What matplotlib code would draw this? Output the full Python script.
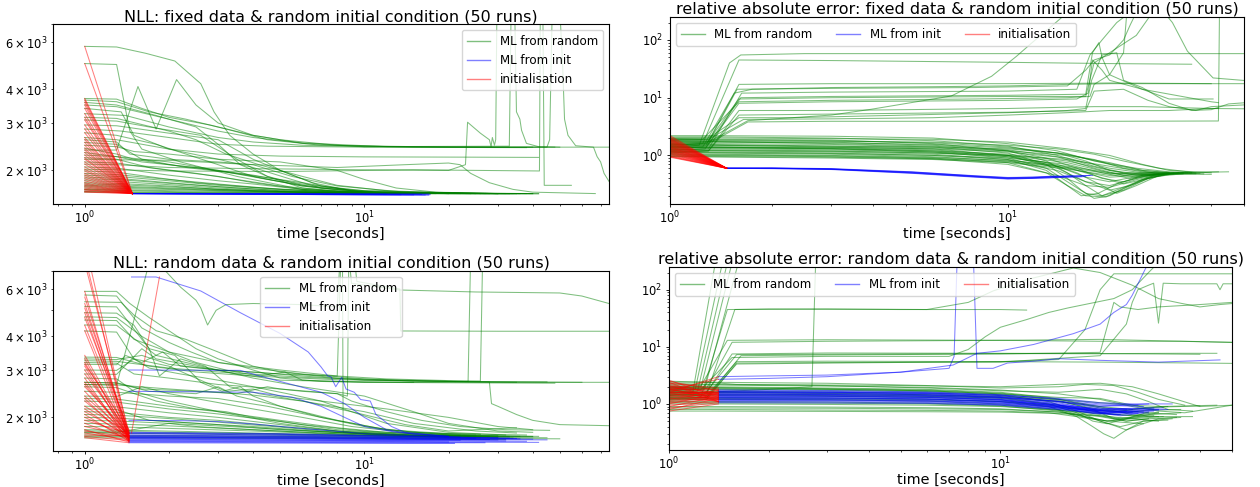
import matplotlib
matplotlib.use('Agg')
import matplotlib.pyplot as plt

# ---------------- top left: NLL, fixed data ----------------
tl_red_start = [5780, 4990, 3700, 3650, 3580, 3500, 3400, 3250, 3150, 3080, 2950, 2850,
                2760, 2650, 2600, 2540, 2480, 2420, 2380, 2330, 2280, 2230, 2200, 2150,
                2110, 2060, 2020, 1990, 1950, 1920, 1890, 1860, 1830, 1800, 1780, 1760,
                1740, 1720, 1700, 1690, 1670, 1660]
tl_red_end = (1.48, 1640)

tl_blue = [
    [(1.48, 1640), (5, 1636), (12, 1632)],
    [(1.48, 1640), (5, 1630), (13.5, 1625)],
    [(1.48, 1640), (6, 1628), (15, 1622)],
    [(1.48, 1640), (6, 1634), (16, 1630)],
    [(1.48, 1640), (7, 1626), (16.5, 1620)],
    [(1.48, 1640), (7, 1638), (17, 1634)],
    [(1.48, 1640), (8, 1624), (17, 1618)],
    [(1.48, 1640), (8, 1632), (17.2, 1626)],
]

tl_green = [
    [(1, 5780), (1.3, 5750), (1.65, 5450), (2.1, 5100), (2.6, 4200), (2.9, 3300), (3.3, 2700), (4, 2300), (5, 2000), (7, 1750), (10, 1660), (20, 1640), (42, 1638)],
    [(1, 4990), (1.3, 4950), (1.45, 2800), (1.6, 2400), (2.2, 2150), (3.5, 1900), (6, 1700), (12, 1645), (38, 1640)],
    [(1, 2380), (1.3, 2380), (1.55, 4100), (1.8, 2850), (2.13, 4350), (2.5, 3500), (3, 3000), (4, 2700), (5, 2600), (8, 2480), (15, 2440), (48, 2440)],
    [(1, 3700), (1.3, 3680), (1.6, 3400), (2, 3150), (2.8, 2950), (4, 2700), (6, 2520), (10, 2450), (30, 2435), (45, 2440), (46, 2600), (47, 8000), (50, 8000), (51.2, 4900), (52, 3100), (53.5, 2700), (57, 2470), (66, 2440), (80, 2440)],
    [(1, 3650), (1.3, 3600), (1.7, 3300), (2.3, 3100), (3.2, 2850), (4.5, 2600), (7, 2480), (20, 2440), (66, 2440), (68, 2250), (70, 2150), (72, 1950), (75, 1820), (78, 1800)],
    [(1, 3580), (1.3, 3500), (1.8, 3200), (2.5, 2900), (3, 2500), (3.6, 2100), (4.5, 1900), (6, 1760), (10, 1680), (25, 1645), (40, 1640)],
    [(1, 3500), (1.3, 3450), (2, 3100), (3, 2800), (4, 2650), (6, 2530), (12, 2450), (40, 2440)],
    [(1, 3400), (1.35, 3300), (1.5, 2700), (2, 2400), (3, 2300), (5, 2260), (10, 2245), (23, 2240), (42, 2235)],
    [(1, 3250), (1.4, 3200), (2, 2900), (3, 2650), (4, 2550), (6, 2480), (10, 2450), (33, 2460), (33.5, 8000), (34.5, 8000), (35, 3300), (36, 3100), (36.5, 2820), (38, 2520), (42, 2450), (50, 2440)],
    [(1, 3150), (1.3, 3120), (2, 2800), (2.5, 2600), (3.2, 2300), (4.2, 2100), (6, 1900), (8, 1760), (12, 1680), (20, 1650), (30, 1640)],
    [(1, 3080), (1.3, 3050), (1.7, 2900), (2.6, 2700), (3.5, 2200), (4.5, 1900), (6, 1720), (10, 1650), (25, 1640)],
    [(1, 2950), (1.3, 2930), (2, 2750), (3, 2600), (4, 2200), (5, 2000), (6.5, 1800), (9, 1680), (15, 1640), (35, 1638)],
    [(1, 2850), (1.35, 2800), (2, 2650), (3, 2500), (4.5, 2460), (10, 2440), (38, 2430)],
    [(1, 2760), (1.3, 2700), (1.8, 2500), (2.3, 2300), (3, 2100), (4, 1900), (6, 1750), (10, 1660), (30, 1640)],
    [(1, 2650), (1.3, 2600), (2, 2400), (3, 2200), (4, 2050), (5.5, 1850), (7, 1720), (11, 1650), (28, 1640)],
    [(1, 2600), (1.3, 2550), (1.45, 2300), (2, 2200), (3, 2150), (4, 2100), (5.5, 1900), (8, 1750), (14, 1660), (20, 1640), (33, 1638)],
    [(1, 2540), (1.3, 2500), (1.6, 2200), (2.3, 2050), (3.5, 1950), (6, 1800), (9, 1680), (15, 1645), (40, 1640)],
    [(1, 2480), (1.3, 2450), (1.5, 2350), (2, 2300), (3, 2200), (5, 2150), (8, 2000), (10, 1850), (13, 1720), (18, 1660), (30, 1640)],
    [(1, 2420), (1.3, 2300), (1.5, 2200), (2, 2100), (3, 2000), (4, 1920), (6, 1780), (10, 1680), (22, 1642)],
    [(1, 2330), (1.3, 2250), (1.6, 2150), (2.5, 2050), (4, 1900), (6, 1750), (9, 1670), (16, 1645), (36, 1640)],
    [(1, 2280), (1.3, 2250), (2, 2150), (3, 2000), (4.5, 1850), (7, 1720), (12, 1650), (26, 1640)],
    [(1, 2230), (1.3, 2200), (1.7, 2050), (2.5, 1950), (3.5, 1850), (5, 1750), (8, 1670), (20, 1642)],
    [(1, 2200), (1.3, 2190), (2, 2180), (4, 2100), (8, 2050), (14, 2100), (20, 2130), (22, 2100), (24, 1950), (28, 1800), (34, 1700), (40, 1660), (67, 1640)],
    [(1, 2150), (1.3, 2130), (2, 2000), (3, 1900), (4, 1800), (6, 1700), (10, 1650), (30, 1640)],
    [(1, 2110), (1.3, 2100), (2, 2050), (4, 2030), (10, 2010), (20, 2000), (23, 2100), (23.4, 3020), (26, 2750), (28, 2600), (28.4, 2450), (28.7, 2650), (29.2, 2480), (29.5, 2600), (29.8, 8000)],
    [(1, 2060), (1.3, 2040), (2, 1920), (3, 1830), (4, 1780), (6, 1700), (10, 1650), (24, 1640)],
    [(1, 2020), (1.3, 2010), (2, 1990), (5, 1980), (15, 2010), (25, 2000), (42.3, 1990), (42.6, 8000), (43.5, 8000), (44, 1760), (55, 1760)],
    [(1, 1990), (1.3, 1970), (1.8, 1880), (2.5, 1800), (4, 1730), (7, 1670), (12, 1645), (32, 1640)],
    [(1, 1950), (1.3, 1930), (2, 1850), (3, 1780), (5, 1700), (9, 1655), (20, 1640)],
    [(1, 1920), (1.3, 1900), (2, 1830), (3, 1760), (5, 1700), (8, 1660), (27, 1640)],
    [(1, 1890), (1.3, 1870), (2, 1800), (3, 1740), (5, 1680), (10, 1645), (34, 1640)],
    [(1, 1860), (1.3, 1850), (2, 1790), (3.5, 1720), (6, 1670), (12, 1645), (25, 1640)],
    [(1, 1830), (1.3, 1820), (2, 1770), (3, 1720), (5, 1670), (9, 1650), (30, 1640)],
    [(1, 1800), (1.3, 1790), (2, 1750), (3, 1700), (6, 1660), (18, 1640)],
    [(1, 1780), (1.3, 1770), (2.5, 1720), (4, 1680), (8, 1650), (40, 1640)],
    [(1, 1760), (1.3, 1750), (2, 1720), (4, 1680), (7, 1650), (22, 1640)],
    [(1, 1720), (1.3, 1715), (2.5, 1690), (5, 1660), (10, 1645), (36, 1640)],
    [(1, 1700), (1.3, 1695), (3, 1670), (6, 1650), (28, 1640)],
    [(1, 1670), (1.3, 1665), (3, 1650), (8, 1640), (42, 1638)],
    [(1, 1740), (1.3, 1735), (2, 1710), (4, 1670), (9, 1648), (20, 1640)],
    [(1, 1690), (1.3, 1685), (2.2, 1665), (5, 1648), (15, 1640)],
    [(1, 1660), (1.3, 1658), (2, 1650), (6, 1642), (24, 1640)],
]

# ---------------- top right: relative error, fixed data ----------------
tr_red_start = [2.2, 2.1, 2.0, 1.95, 1.9, 1.85, 1.8, 1.75, 1.7, 1.65, 1.6, 1.55, 1.5, 1.45,
                1.42, 1.38, 1.35, 1.3, 1.27, 1.24, 1.2, 1.17, 1.14, 1.1, 1.07, 1.04, 1.0,
                0.97, 0.95, 0.93]
tr_red_end = (1.47, 0.6)

tr_blue = [
    [(1.47, 0.6), (2, 0.61), (3, 0.59), (5.2, 0.52), (8, 0.44), (10, 0.41), (11.8, 0.42), (15, 0.44), (17.8, 0.45)],
    [(1.47, 0.6), (2, 0.59), (3, 0.57), (5.2, 0.49), (8, 0.42), (10, 0.39), (11.8, 0.40), (15, 0.42), (17, 0.43)],
    [(1.47, 0.6), (2, 0.6), (3, 0.58), (5.2, 0.5), (8, 0.43), (10, 0.40), (11.8, 0.41), (15.5, 0.44)],
    [(1.47, 0.6), (2, 0.6), (3, 0.585), (5.2, 0.515), (8, 0.445), (10, 0.415), (11.8, 0.42), (14, 0.44)],
    [(1.47, 0.6), (2, 0.595), (3, 0.575), (5.2, 0.495), (8, 0.425), (10, 0.395), (11.8, 0.40), (16.5, 0.43)],
    [(1.47, 0.6), (2, 0.6), (3, 0.58), (5.2, 0.51), (8, 0.435), (10, 0.405), (11.8, 0.41), (17.5, 0.45)],
]

tr_green = [
    # runs that stay near the true values
    [(1, 2.2), (1.3, 2.2), (3, 2.15), (6, 2.0), (10, 1.6), (14, 1.2), (18, 0.8), (24, 0.6), (30, 0.52), (35, 0.5)],
    [(1, 2.1), (1.3, 2.1), (3, 2.0), (6, 1.8), (10, 1.45), (14, 1.0), (18, 0.65), (22, 0.5), (28, 0.48)],
    [(1, 2.0), (1.3, 2.0), (3, 1.95), (6, 1.9), (10, 1.7), (15, 1.3), (20, 1.0), (25, 0.7), (30, 0.55), (40, 0.5)],
    [(1, 1.95), (1.3, 1.9), (3, 1.85), (6, 1.6), (10, 1.2), (13, 0.8), (15, 0.5), (17, 0.3), (19, 0.2), (22, 0.25), (26, 0.4), (30, 0.48)],
    [(1, 1.85), (1.3, 1.8), (3, 1.75), (6, 1.7), (10, 1.5), (14, 1.3), (18, 1.05), (22, 0.8), (28, 0.6), (36, 0.5)],
    [(1, 1.8), (1.3, 1.75), (3, 1.6), (6, 1.45), (10, 1.2), (13, 0.9), (16, 0.6), (19, 0.4), (22, 0.35), (26, 0.45), (32, 0.5)],
    [(1, 1.7), (1.3, 1.7), (3, 1.65), (6, 1.55), (10, 1.35), (14, 1.1), (17, 0.8), (20, 0.55), (24, 0.45), (29, 0.47)],
    [(1, 1.65), (1.3, 1.6), (3, 1.55), (6, 1.4), (10, 1.1), (13, 0.7), (15, 0.4), (16.5, 0.25), (18, 0.18), (20, 0.2), (23, 0.3), (27, 0.45), (33, 0.5)],
    [(1, 1.6), (1.3, 1.55), (3, 1.45), (6, 1.35), (10, 1.2), (15, 1.0), (20, 0.75), (25, 0.55), (30, 0.5), (42, 0.52)],
    [(1, 1.55), (1.3, 1.5), (3, 1.4), (6, 1.3), (10, 1.0), (14, 0.6), (17, 0.35), (20, 0.3), (24, 0.4), (28, 0.47)],
    [(1, 1.5), (1.3, 1.5), (3, 1.45), (6, 1.4), (10, 1.3), (14, 1.1), (18, 0.85), (22, 0.6), (27, 0.5), (38, 0.48)],
    [(1, 1.45), (1.3, 1.4), (3, 1.35), (6, 1.25), (10, 1.0), (13, 0.75), (16, 0.5), (19, 0.3), (21, 0.22), (24, 0.3), (28, 0.45), (31, 0.5)],
    [(1, 1.4), (1.3, 1.4), (3, 1.3), (6, 1.2), (10, 1.05), (15, 0.8), (20, 0.55), (25, 0.47), (35, 0.5)],
    [(1, 1.35), (1.3, 1.35), (3, 1.3), (6, 1.15), (10, 0.9), (13, 0.6), (15, 0.35), (17, 0.22), (19, 0.2), (22, 0.28), (26, 0.42), (30, 0.48)],
    [(1, 1.3), (1.3, 1.3), (3, 1.25), (6, 1.15), (10, 1.0), (15, 0.75), (20, 0.5), (24, 0.42), (29, 0.48)],
    [(1, 1.27), (1.3, 1.25), (3, 1.2), (6, 1.1), (10, 0.95), (14, 0.7), (18, 0.45), (22, 0.32), (26, 0.4), (32, 0.5)],
    [(1, 1.24), (1.3, 1.22), (3, 1.18), (6, 1.1), (10, 1.0), (15, 0.85), (20, 0.65), (25, 0.52), (30, 0.48), (40, 0.47)],
    [(1, 1.2), (1.3, 1.2), (3, 1.15), (6, 1.05), (10, 0.85), (13, 0.55), (15, 0.3), (16.5, 0.2), (18.5, 0.22), (21, 0.32), (25, 0.45), (28, 0.48)],
    [(1, 1.17), (1.3, 1.15), (3, 1.1), (6, 1.0), (10, 0.85), (15, 0.6), (20, 0.42), (25, 0.45), (34, 0.5)],
    [(1, 1.14), (1.3, 1.12), (3, 1.08), (6, 1.0), (10, 0.9), (15, 0.7), (19, 0.5), (23, 0.4), (27, 0.46)],
    [(1, 1.1), (1.3, 1.1), (3, 1.05), (6, 0.95), (10, 0.8), (14, 0.55), (17, 0.35), (20, 0.25), (23, 0.3), (27, 0.43), (33, 0.48)],
    [(1, 1.07), (1.3, 1.05), (3, 1.0), (6, 0.92), (10, 0.82), (15, 0.65), (20, 0.5), (26, 0.46), (36, 0.48)],
    [(1, 1.04), (1.3, 1.02), (3, 0.98), (6, 0.9), (10, 0.75), (13, 0.5), (15, 0.3), (17, 0.2), (19.5, 0.19), (22, 0.27), (25, 0.38), (29, 0.46)],
    [(1, 1.0), (1.3, 1.0), (3, 0.95), (6, 0.88), (10, 0.78), (15, 0.62), (20, 0.48), (25, 0.5), (30, 0.5)],
    [(1, 0.97), (1.3, 0.96), (3, 0.93), (6, 0.87), (10, 0.7), (14, 0.45), (17, 0.3), (20, 0.28), (24, 0.38), (28, 0.46)],
    [(1, 0.95), (1.3, 0.94), (3, 0.9), (6, 0.85), (10, 0.75), (15, 0.58), (20, 0.45), (26, 0.47), (37, 0.49)],
    [(1, 1.9), (1.3, 1.85), (3, 1.8), (6, 1.65), (10, 1.4), (15, 1.05), (20, 0.7), (25, 0.55), (31, 0.5), (45, 0.52)],
    [(1, 1.75), (1.3, 1.72), (3, 1.7), (6, 1.5), (10, 1.25), (14, 0.95), (18, 0.6), (22, 0.45), (26, 0.5), (33, 0.5)],
    [(1, 1.42), (1.3, 1.4), (3, 1.38), (6, 1.3), (10, 1.15), (15, 0.9), (20, 0.6), (25, 0.5), (31, 0.48)],
    [(1, 1.38), (1.3, 1.36), (3, 1.32), (6, 1.2), (10, 0.95), (14, 0.65), (17, 0.42), (20, 0.35), (25, 0.45), (30, 0.5)],
    # runs that run away from the true values
    [(1, 1.4), (1.22, 1.5), (1.5, 40), (1.62, 55), (2.5, 58), (10, 58), (30, 58), (55, 58)],
    [(1, 1.5), (1.25, 1.6), (1.6, 45), (3, 44), (10, 41), (20, 39), (35, 38)],
    [(1, 1.3), (1.25, 1.4), (1.55, 12), (1.75, 14), (3, 15), (6, 15.5), (10, 16), (15, 17), (20, 17.5), (40, 17.5)],
    [(1, 1.45), (1.28, 1.5), (1.6, 17), (3, 17.5), (10, 17.5), (17, 17.8), (20, 18), (40, 17.5), (55, 17.5)],
    [(1, 1.2), (1.27, 1.3), (1.6, 8), (3, 8.5), (10, 9), (16, 9.5), (17.3, 12), (17.8, 45), (19, 30), (20, 20), (25, 14), (30, 9.5), (40.5, 9.5)],
    [(1, 1.9), (1.25, 1.9), (1.6, 8.5), (3, 9), (8, 9.5), (15, 10), (17.5, 10.5), (18, 17), (20, 25), (25, 14), (40, 8.5), (42, 8.2)],
    [(1, 1.1), (1.3, 1.2), (1.6, 6), (3, 6), (10, 6.5), (18, 7), (25, 7), (40, 6.5), (55, 6.4)],
    [(1, 2.0), (1.3, 2.0), (1.6, 4.5), (2.3, 4.5), (5, 5), (10, 5.5), (15, 6), (17, 6.5), (17.7, 20), (19, 55), (21, 60), (22, 20), (25, 15), (30, 8), (35, 6), (40, 6.2), (45, 7.8), (55, 8.5)],
    [(1, 1.8), (1.3, 1.9), (1.65, 4.2), (3, 4.3), (6, 4.5), (10, 5), (15, 5.5), (20, 6), (30, 6), (40, 6.5), (42, 6.5)],
    [(1, 1.5), (1.3, 1.6), (1.7, 3.8), (3, 3.9), (10, 3.9), (20, 3.9), (42, 3.95), (42.3, 300)],
    [(1, 1.6), (1.3, 1.7), (1.7, 4), (3, 5), (3.94, 6.3), (6.8, 10.7), (8.95, 23.5), (10.6, 52), (11.8, 90), (13.5, 175), (14.6, 260)],
    [(1, 1.7), (1.3, 1.7), (1.58, 14), (3, 14.5), (8, 15), (15, 16), (17, 30), (18, 45), (20, 55), (22, 100), (23, 180), (24, 300)],
    [(1, 1.35), (1.28, 1.4), (1.62, 10), (3, 10.5), (10, 11), (17, 11.5), (17.8, 60), (18.6, 90), (19, 50), (20, 25), (22, 60), (22.5, 300)],
    [(1, 1.55), (1.28, 1.6), (1.6, 9.5), (3, 10), (10, 10.5), (17, 10.5), (18, 40), (20, 60), (24, 120), (26.8, 300)],
    [(1, 1.25), (1.3, 1.3), (1.63, 12), (3, 12.5), (10, 13), (16, 14), (17.5, 55), (19, 100), (21, 200), (23, 300), (29, 300), (30.7, 200), (34, 64), (40.5, 22), (55, 19)],
    [(1, 1.15), (1.3, 1.2), (1.6, 5), (3, 5.2), (10, 5.6), (17, 6), (18, 13), (22, 14), (26, 9), (30, 7), (36, 6), (40, 7), (50, 7.5), (55, 7.5)],
]

# ---------------- bottom left: NLL, random data ----------------
bl_red_pairs = [(9000, 1700), (8000, 1650), (7500, 1760), (5880, 1640), (5600, 1720), (5300, 1690),
                (5100, 1750), (4900, 1660), (4700, 1780), (4400, 1700), (4200, 1630), (3400, 1740),
                (3300, 1670), (3200, 1710), (3150, 1800), (3100, 1650), (3000, 1690), (2900, 1760),
                (2800, 1620), (2700, 1700), (2650, 1680), (2600, 1740), (2500, 1660), (2400, 1720),
                (2350, 1640), (2300, 1690), (2200, 1750), (2150, 1670), (2100, 1710), (2050, 1630),
                (2000, 1680), (1950, 1740), (1900, 1660), (1850, 1700), (1800, 1620), (1780, 1690),
                (1750, 1650), (1720, 1710), (1700, 1640), (1680, 1610)]
bl_red_t = (1, 1.44)
bl_red_extra = [[(1.47, 1750), (1.85, 6650)]]

bl_blue = [
    [(1.47, 6650), (1.8, 6650), (2.6, 5900), (3.6, 4900), (5, 4100), (6.3, 3500), (7, 3080), (7.4, 2850), (7.6, 2830), (7.9, 2600), (8.3, 2820), (8.6, 2550), (9.2, 2480), (9.7, 2330), (10.5, 2300), (11, 2050), (12.5, 1850), (14, 1760), (20, 1700)],
    [(1.44, 3000), (3.6, 2990), (4.5, 2800), (5.5, 2650), (7, 2480), (8.5, 2250), (10, 2000), (12, 1800), (15, 1730), (22, 1690)],
    [(1.44, 2500), (2.5, 2490), (4, 2480), (5.5, 2380), (7, 2200), (8.5, 2000), (10, 1850), (13, 1760), (20, 1700)],
    [(1.44, 1950), (2.2, 1945), (3, 1930), (4, 1890), (6, 1820), (10, 1740), (20, 1690)],
    [(1.44, 1760), (5, 1740), (15, 1700), (30, 1680)],
    [(1.44, 1740), (5, 1720), (15, 1690), (35, 1670)],
    [(1.44, 1720), (5, 1705), (15, 1680), (25, 1670)],
    [(1.44, 1700), (5, 1690), (15, 1670), (40, 1660)],
    [(1.44, 1690), (5, 1680), (15, 1665), (28, 1655)],
    [(1.44, 1680), (5, 1670), (15, 1655), (45, 1650)],
    [(1.44, 1670), (5, 1660), (15, 1650), (22, 1645)],
    [(1.44, 1660), (5, 1650), (15, 1640), (32, 1635)],
    [(1.44, 1650), (5, 1645), (15, 1635), (38, 1630)],
    [(1.44, 1640), (5, 1635), (15, 1625), (20, 1620)],
    [(1.44, 1630), (5, 1625), (15, 1618), (42, 1615)],
    [(1.44, 1620), (5, 1615), (15, 1610), (27, 1610)],
    [(1.44, 1610), (5, 1605), (15, 1600), (21, 1600)],
    [(1.44, 1750), (5, 1730), (15, 1695), (33, 1675)],
    [(1.44, 1710), (5, 1700), (15, 1675), (36, 1665)],
    [(1.44, 1685), (5, 1678), (15, 1660), (30, 1650)],
]

bl_green = [
    [(1, 5880), (1.3, 5880), (1.45, 5300), (1.7, 4700), (2, 4200), (2.5, 3600), (3, 3300), (4, 3000), (5, 2800), (7, 2720), (10, 2700), (20, 2700), (40, 2700), (80, 2700)],
    [(1, 5700), (1.3, 5650), (1.6, 4300), (2, 3800), (2.4, 3500), (3, 3200), (4, 3050), (6, 2900), (10, 2780), (20, 2720), (35, 2700)],
    [(1, 5380), (1.35, 5350), (1.5, 4800), (1.8, 4200), (2.3, 3900), (3, 3500), (4, 3100), (5, 2950), (8, 2800), (15, 2730), (30, 2710), (60, 2700)],
    [(1, 5170), (1.3, 5150), (1.7, 3600), (1.85, 2850), (2.2, 3300), (2.7, 3100), (3.3, 2600), (4.2, 2450), (6, 2300), (10, 2100), (15, 1900), (25, 1780), (35, 1750)],
    [(1, 4900), (1.3, 4880), (1.5, 4400), (1.7, 3600), (2.1, 3400), (2.6, 2700), (3.1, 2500), (3.6, 2600), (4, 2400), (5, 2200), (7, 2000), (12, 1800), (20, 1720), (28, 1700)],
    [(1, 4730), (1.3, 4700), (1.6, 4000), (2, 3500), (2.5, 3200), (3.2, 3000), (4.2, 2850), (5.2, 2950), (6, 2750), (10, 2700), (20, 2690), (48, 2680)],
    [(1, 4410), (1.3, 4400), (1.8, 3400), (2.3, 3200), (3, 3000), (4, 2800), (6, 2600), (10, 2400), (15, 2100), (20, 1900), (30, 1780), (40, 1760)],
    [(1, 4190), (1.3, 4150), (1.5, 3300), (1.7, 3050), (2.2, 2900), (3, 2750), (4, 2600), (5.3, 2450), (7, 2300), (9, 2100), (12, 1900), (20, 1760), (32, 1720)],
    [(1, 2650), (1.3, 2640), (1.7, 7500), (1.85, 7400), (2.2, 6100), (2.5, 5450), (2.6, 5100), (2.75, 4410), (2.95, 5000), (3.2, 5250), (4, 5300), (6, 5250), (8, 5150), (8.2, 8000), (8.8, 8000), (9, 6300), (13.4, 5950), (25, 5850), (50, 5800), (60, 5650), (75, 5300)],
    [(1, 3300), (1.3, 3280), (1.6, 3400), (2, 3150), (3, 3000), (5, 2900), (8, 2850), (8.25, 8000), (8.35, 8000), (8.4, 1760), (12, 1720), (20, 1700)],
    [(1, 3200), (1.3, 3180), (1.5, 2900), (2, 2800), (3, 2650), (5, 2550), (8, 2450), (8.7, 2400), (8.8, 8000), (9.2, 8000), (9.4, 6400), (13.4, 6000), (13.5, 4190), (30, 4180), (80, 4180)],
    [(1, 3150), (1.3, 3140), (1.4, 3400), (1.6, 3200), (1.9, 3500), (2.2, 3100), (3, 3000), (4, 2950), (6, 2850), (10, 2750), (20, 2720), (45, 2710)],
    [(1, 3000), (1.3, 2990), (1.5, 3300), (2, 3100), (2.7, 2700), (3.2, 2500), (4, 2550), (5, 2400), (7, 2300), (12, 2150), (20, 2000), (30, 1850), (40, 1800)],
    [(1, 2900), (1.3, 2890), (1.6, 3600), (1.8, 3300), (2.5, 3100), (3.5, 2900), (5, 2750), (8, 2720), (15, 2700)],
    [(1, 2700), (1.3, 2690), (1.6, 2550), (2.5, 2500), (3.5, 2450), (4.5, 2600), (5, 2550), (6, 2500), (8, 2450), (9, 2300), (12, 2100), (16, 1950), (22, 1850), (32, 1800), (46, 1790)],
    [(1, 4600), (1.3, 4580), (1.5, 3900), (2, 3500), (3, 3200), (5, 3000), (8, 2850), (12, 2780), (20, 2740), (26, 2730), (26.5, 8000)],
    [(1, 3350), (1.3, 3340), (1.7, 3100), (2.5, 2950), (4, 2850), (8, 2760), (16, 2730), (23.5, 2720), (24, 8000)],
    [(1, 3250), (1.3, 3230), (2, 3050), (3, 2950), (6, 2820), (10, 2760), (20, 2720), (28, 2710), (28.5, 2250), (30, 2200), (35, 2050), (40, 1950), (50, 1880), (80, 1860)],
    [(1, 2800), (1.3, 2780), (1.5, 2500), (2, 2300), (3, 2100), (5, 1900), (8, 1780), (15, 1720), (30, 1690)],
    [(1, 2700), (1.3, 2680), (1.7, 2500), (2.5, 2450), (3, 2600), (3.5, 2400), (5, 2200), (8, 1950), (12, 1800), (20, 1740), (38, 1720)],
    [(1, 2650), (1.3, 2640), (2, 2550), (3, 2480), (4, 2420), (6, 2300), (9, 2100), (14, 1880), (20, 1780), (35, 1830)],
    [(1, 2600), (1.3, 2580), (1.8, 2300), (2.5, 2150), (3.2, 2100), (4, 2000), (6, 1880), (10, 1780), (18, 1720), (40, 1700)],
    [(1, 2500), (1.3, 2480), (2, 2400), (3, 2350), (4.5, 2200), (7, 2000), (10, 1850), (15, 1760), (25, 1720)],
    [(1, 2400), (1.3, 2390), (1.6, 2600), (2, 2450), (2.8, 2300), (4, 2150), (6, 2000), (9, 1850), (14, 1760), (26, 1730)],
    [(1, 2350), (1.3, 2340), (2, 2200), (3, 2100), (5, 1950), (8, 1830), (12, 1760), (22, 1720)],
    [(1, 2300), (1.3, 2280), (2, 2150), (3, 2060), (5, 1930), (8, 1800), (13, 1740), (30, 1710)],
    [(1, 2200), (1.3, 2190), (2, 2080), (3, 2000), (5, 1880), (8, 1780), (14, 1720), (24, 1700)],
    [(1, 2150), (1.3, 2140), (1.7, 1950), (2.5, 1900), (4, 1850), (7, 1770), (12, 1720), (33, 1700)],
    [(1, 2100), (1.3, 2090), (2, 2000), (3, 1950), (5, 1850), (9, 1760), (16, 1710), (42, 1700)],
    [(1, 2050), (1.3, 2040), (2, 1980), (3, 1920), (5, 1840), (8, 1760), (15, 1710), (28, 1690)],
    [(1, 2000), (1.3, 1990), (2, 1930), (3, 1880), (5, 1800), (10, 1740), (20, 1710), (36, 1700)],
    [(1, 1950), (1.3, 1940), (2, 1900), (4, 1830), (7, 1770), (12, 1720), (25, 1700)],
    [(1, 1900), (1.3, 1890), (2, 1860), (4, 1800), (8, 1740), (16, 1705), (40, 1695)],
    [(1, 1850), (1.3, 1845), (2, 1820), (4, 1780), (8, 1730), (15, 1700), (30, 1690)],
    [(1, 1800), (1.3, 1795), (2.5, 1770), (5, 1740), (10, 1710), (22, 1690)],
    [(1, 1780), (1.3, 1775), (2, 1760), (4, 1740), (9, 1710), (20, 1690), (45, 1680)],
    [(1, 1750), (1.3, 1748), (3, 1730), (6, 1710), (12, 1690), (26, 1680)],
    [(1, 1720), (1.3, 1718), (3, 1705), (8, 1690), (18, 1680), (34, 1675)],
    [(1, 1700), (1.3, 1698), (3, 1690), (8, 1680), (20, 1670), (50, 1665)],
    [(1, 1680), (1.3, 1678), (3, 1672), (8, 1665), (20, 1660), (32, 1655)],
    [(1, 1760), (1.3, 1755), (2, 1900), (2.5, 1850), (4, 1800), (6, 1760), (10, 1720), (20, 1700)],
]

# ---------------- bottom right: relative error, random data ----------------
br_red_pairs = [(2.6, 1.3), (2.5, 1.7), (2.4, 1.1), (2.3, 1.9), (2.2, 1.5), (2.1, 1.2), (2.05, 1.8),
                (2.0, 1.4), (1.95, 1.6), (1.9, 1.1), (1.85, 1.75), (1.8, 1.3), (1.75, 1.5), (1.7, 1.2),
                (1.65, 1.65), (1.6, 1.45), (1.55, 1.1), (1.5, 1.55), (1.45, 1.35), (1.4, 1.7),
                (1.35, 1.25), (1.3, 1.5), (1.25, 1.15), (1.2, 1.6), (1.15, 1.4), (1.1, 1.3),
                (1.05, 1.2), (1.0, 1.5), (0.95, 1.1), (0.9, 1.35), (0.85, 1.05), (0.8, 1.25),
                (0.75, 1.0), (1.75, 2.7), (1.6, 3.0)]
br_red_t = (1, 1.41)

br_blue = [
    [(1.41, 1.76), (3, 1.72), (6, 1.62), (10, 1.45), (15, 1.2), (20, 1.0), (26, 0.95)],
    [(1.41, 1.7), (3, 1.66), (6, 1.58), (10, 1.4), (15, 1.1), (20, 0.9), (28, 1.0)],
    [(1.41, 1.65), (3, 1.6), (6, 1.52), (10, 1.35), (15, 1.05), (19, 0.8), (24, 0.7), (29, 0.75)],
    [(1.41, 1.6), (3, 1.57), (6, 1.5), (10, 1.32), (15, 1.1), (20, 0.85), (25, 0.8)],
    [(1.41, 1.55), (3, 1.52), (6, 1.45), (10, 1.3), (14, 1.05), (18, 0.8), (22, 0.65), (27, 0.7)],
    [(1.41, 1.5), (3, 1.47), (6, 1.4), (10, 1.25), (15, 1.0), (20, 0.8), (31, 0.85)],
    [(1.41, 1.45), (3, 1.42), (6, 1.36), (10, 1.2), (15, 0.95), (20, 0.78), (24, 0.8)],
    [(1.41, 1.4), (3, 1.38), (6, 1.32), (10, 1.18), (14, 0.95), (18, 0.75), (23, 0.62), (26, 0.68)],
    [(1.41, 1.35), (3, 1.33), (6, 1.28), (10, 1.15), (15, 0.92), (20, 0.78), (30, 0.8)],
    [(1.41, 1.3), (3, 1.28), (6, 1.23), (10, 1.1), (15, 0.9), (20, 0.72), (27, 0.75)],
    [(1.41, 1.25), (3, 1.24), (6, 1.2), (10, 1.08), (15, 0.88), (21, 0.7), (25, 0.72)],
    [(1.41, 1.2), (3, 1.19), (6, 1.15), (10, 1.05), (15, 0.85), (19, 0.68), (23, 0.65)],
    [(1.41, 1.15), (3, 1.14), (6, 1.1), (10, 1.0), (15, 0.85), (20, 0.75), (32, 0.8)],
    [(1.41, 1.1), (3, 1.09), (6, 1.06), (10, 0.97), (15, 0.82), (20, 0.7), (26, 0.73)],
    [(1.41, 1.05), (3, 1.04), (6, 1.02), (10, 0.95), (15, 0.8), (20, 0.68), (28, 0.7)],
    [(1.41, 1.62), (3, 1.6), (6, 1.55), (10, 1.42), (15, 1.25), (20, 1.05), (25, 1.0), (33, 1.0)],
    [(1.41, 1.48), (3, 1.46), (6, 1.42), (10, 1.3), (15, 1.12), (20, 0.95), (27, 0.9)],
    [(1.41, 1.38), (3, 1.36), (6, 1.3), (10, 1.2), (14, 1.0), (18, 0.82), (22, 0.72), (30, 0.78)],
    [(1.41, 1.28), (3, 1.27), (6, 1.22), (10, 1.12), (15, 0.95), (20, 0.82), (29, 0.85)],
    [(1.41, 1.18), (3, 1.17), (6, 1.13), (10, 1.03), (15, 0.88), (20, 0.76), (24, 0.74)],
    [(1.41, 3.0), (2, 3.1), (3, 3.2), (5, 3.6), (7, 4.2), (7.25, 6.8), (7.4, 300), (8.3, 300), (8.5, 4.2), (9.5, 4.2), (10.5, 5.2), (12.6, 5.6), (15, 6.2), (20, 5.8), (30, 5.4), (46, 5.9)],
    [(1.41, 2.7), (2, 2.8), (3, 3.0), (5, 3.6), (7.2, 4.8), (8.5, 7.7), (10, 8.5), (12.6, 11), (16.6, 17), (20, 25), (22, 40), (24, 55), (25, 80), (28, 300)],
]

br_green = [
    [(1, 2.5), (1.3, 2.4), (3, 2.3), (6, 2.1), (10, 1.9), (15, 2.0), (18, 2.2), (22, 2.1), (26, 1.6), (30, 1.2), (36, 0.95)],
    [(1, 2.3), (1.3, 2.2), (3, 2.1), (6, 1.9), (10, 1.7), (15, 1.6), (20, 1.8), (24, 1.5), (28, 1.1), (32, 0.8), (38, 0.75)],
    [(1, 2.1), (1.3, 2.0), (3, 1.9), (6, 1.8), (10, 1.6), (14, 1.3), (18, 1.0), (22, 0.8), (28, 0.7), (34, 0.65)],
    [(1, 2.0), (1.3, 1.95), (3, 1.85), (6, 1.75), (10, 1.55), (15, 1.2), (20, 0.85), (25, 0.65), (30, 0.6)],
    [(1, 1.9), (1.3, 1.85), (3, 1.8), (6, 1.7), (10, 1.5), (15, 1.15), (19, 0.8), (22, 0.55), (26, 0.6), (30, 0.7)],
    [(1, 1.8), (1.3, 1.8), (3, 1.75), (6, 1.65), (10, 1.45), (14, 1.1), (17, 0.75), (20, 0.5), (23, 0.4), (27, 0.5), (33, 0.55)],
    [(1, 1.7), (1.3, 1.68), (3, 1.62), (6, 1.55), (10, 1.4), (15, 1.1), (20, 0.8), (24, 0.7), (29, 0.8)],
    [(1, 1.6), (1.3, 1.58), (3, 1.52), (6, 1.45), (10, 1.3), (14, 1.0), (17, 0.7), (19, 0.5), (21, 0.45), (24, 0.55), (28, 0.72)],
    [(1, 1.5), (1.3, 1.5), (3, 1.45), (6, 1.38), (10, 1.25), (15, 0.95), (20, 0.7), (25, 0.62), (35, 0.7)],
    [(1, 1.4), (1.3, 1.4), (3, 1.36), (6, 1.3), (10, 1.18), (14, 0.9), (17, 0.6), (19, 0.4), (20.5, 0.3), (22, 0.25), (24, 0.35), (27, 0.5), (32, 0.52)],
    [(1, 1.3), (1.3, 1.3), (3, 1.27), (6, 1.22), (10, 1.1), (15, 0.85), (20, 0.65), (23, 0.55), (26, 0.6), (38, 0.6)],
    [(1, 1.2), (1.3, 1.2), (3, 1.18), (6, 1.12), (10, 1.0), (15, 0.8), (18, 0.6), (21, 0.5), (24, 0.55), (29, 0.62)],
    [(1, 1.1), (1.3, 1.1), (3, 1.08), (6, 1.03), (10, 0.95), (15, 0.78), (20, 0.62), (24, 0.5), (28, 0.55), (34, 0.58)],
    [(1, 1.0), (1.3, 1.0), (3, 0.98), (6, 0.95), (10, 0.9), (15, 0.78), (20, 0.68), (25, 0.62), (30, 0.72)],
    [(1, 0.9), (1.3, 0.9), (3, 0.88), (6, 0.86), (10, 0.82), (15, 0.72), (18, 0.6), (21, 0.5), (25, 0.55), (31, 0.6)],
    [(1, 0.8), (1.3, 0.8), (3, 0.78), (6, 0.77), (10, 0.75), (14, 0.7), (17, 0.6), (20, 0.52), (23, 0.48), (27, 0.45)],
    [(1, 0.75), (1.3, 0.75), (3, 0.74), (6, 0.73), (10, 0.72), (15, 0.68), (20, 0.62), (25, 0.55), (30, 0.5)],
    [(1, 1.65), (1.3, 1.6), (3, 1.55), (6, 1.45), (10, 1.35), (15, 1.2), (20, 1.05), (25, 0.95), (30, 0.9), (45, 0.95)],
    [(1, 1.45), (1.3, 1.45), (3, 1.4), (6, 1.35), (10, 1.28), (15, 1.1), (20, 0.9), (25, 0.8), (30, 0.88), (40, 0.92)],
    [(1, 1.25), (1.3, 1.25), (3, 1.22), (6, 1.18), (10, 1.1), (14, 0.95), (18, 0.8), (22, 0.72), (27, 0.85), (32, 0.9)],
    [(1, 1.05), (1.3, 1.05), (3, 1.03), (6, 1.0), (10, 0.92), (15, 0.75), (19, 0.55), (22, 0.42), (24, 0.35), (26, 0.42), (30, 0.55), (35, 0.58)],
    [(1, 0.85), (1.3, 0.85), (3, 0.84), (6, 0.82), (10, 0.8), (15, 0.72), (20, 0.6), (24, 0.5), (28, 0.55)],
    [(1, 2.2), (1.3, 2.15), (3, 2.05), (6, 1.95), (10, 1.75), (15, 1.5), (20, 1.2), (25, 0.9), (30, 0.75), (36, 0.7), (50, 0.95)],
    [(1, 1.95), (1.3, 1.9), (3, 1.82), (6, 1.7), (10, 1.5), (15, 1.3), (20, 1.25), (24, 1.0), (30, 0.78), (35, 0.8)],
    # runs that run away
    [(1, 1.8), (1.2, 1.8), (1.45, 300)],
    [(1, 1.6), (1.22, 1.7), (1.5, 300)],
    [(1, 1.5), (1.18, 1.6), (1.38, 300)],
    [(1, 1.9), (1.25, 2.0), (1.55, 300)],
    [(1, 1.7), (1.28, 1.8), (1.62, 300)],
    [(1, 1.4), (1.3, 1.5), (1.58, 45), (2, 46), (5, 45), (10, 45), (12, 44)],
    [(1, 2.0), (1.25, 2.1), (1.5, 13), (3, 13.3), (10, 13), (20, 12.5), (35, 12.5), (55, 11.8)],
    [(1, 1.55), (1.3, 1.6), (1.55, 7.5), (3, 7.8), (10, 7.7), (20, 7.6), (30, 7.5), (40, 7.4)],
    [(1, 1.35), (1.3, 1.4), (1.6, 5.5), (3, 5.6), (10, 5.5), (20, 5.4), (40, 5.2), (55, 5.1)],
    [(1, 1.75), (1.25, 1.8), (1.55, 6.5), (3, 6.8), (7, 6.8), (8, 9), (9, 15), (10, 22), (12, 30), (14, 40), (16, 48), (22, 70), (25, 100), (28, 200), (30, 300)],
    [(1, 1.6), (1.3, 1.6), (2, 1.8), (2.7, 2.0), (2.77, 300)],
    [(1, 1.45), (1.28, 1.5), (1.6, 7.3), (5, 7.5), (10, 7.6), (20, 7.6), (35, 7.7), (45, 7.7)],
    [(1, 1.85), (1.3, 1.9), (1.55, 12), (3, 12.5), (10, 13), (20, 13.5), (30, 12.8), (50, 12)],
    [(1, 1.3), (1.25, 1.35), (1.5, 45), (3, 46), (6, 45), (8, 60), (9.5, 95), (12, 150), (16.6, 240), (20, 200), (25, 120), (30, 70), (35, 58), (40, 50), (46, 55), (55, 60)],
    [(1, 1.25), (1.3, 1.3), (1.6, 5), (3, 5.2), (10, 5.5), (15, 6), (18, 20), (20, 100), (22, 190), (30, 190), (55, 190)],
    [(1, 1.15), (1.3, 1.2), (1.6, 5.2), (3, 5.3), (10, 5.4), (20, 7), (24, 25), (25, 60), (26, 100), (28, 120), (29, 130), (30, 26), (31, 130), (35, 127), (45, 127), (46, 100), (47, 127), (55, 127)],
    [(1, 1.2), (1.3, 1.3), (1.65, 7), (3, 7.2), (10, 7.5), (20, 8), (22, 60), (23, 50), (26, 45), (30, 50), (40, 55), (50, 60)],
    [(1, 2.4), (1.3, 2.4), (1.6, 2.2), (5, 2.1), (10, 2.0), (15, 2.2), (20, 2.3), (25, 2.0), (30, 1.5), (40, 0.9), (50, 0.95)],
]

plt.rcParams.update({
    'font.size': 10.4,
    'xtick.labelsize': 8.3,
    'ytick.labelsize': 8.3,
    'xtick.major.size': 2.5, 'xtick.minor.size': 1.5,
    'ytick.major.size': 2.5, 'ytick.minor.size': 1.5,
    'xtick.major.pad': 1.5, 'xtick.minor.pad': 1.5,
    'ytick.major.pad': 2.5, 'ytick.minor.pad': 2.5,
    'xtick.major.width': 0.6, 'xtick.minor.width': 0.5,
    'ytick.major.width': 0.6, 'ytick.minor.width': 0.5,
    'axes.labelpad': 0.5,
})

W, H = 1260, 487
LW = 0.75


def px_axes(fig, left, top, right, bottom):
    return fig.add_axes([left / W, 1 - bottom / H, (right - left) / W, (bottom - top) / H])


def draw_panel(ax, green, blue, red, title, xlim, ylim, legend_kw):
    for i, run in enumerate(green):
        t, v = zip(*run)
        ax.plot(t, v, color='g', alpha=0.5, lw=LW, label='ML from random' if i == 0 else None)
    for i, run in enumerate(blue):
        t, v = zip(*run)
        ax.plot(t, v, color='b', alpha=0.5, lw=LW, label='ML from init' if i == 0 else None)
    for i, run in enumerate(red):
        t, v = zip(*run)
        ax.plot(t, v, color='r', alpha=0.5, lw=LW, label='initialisation' if i == 0 else None)
    ax.set_xscale('log')
    ax.set_yscale('log')
    ax.set_xlim(*xlim)
    ax.set_ylim(*ylim)
    ax.set_title(title, fontsize=11.5, pad=2)
    ax.set_xlabel('time [seconds]')
    leg = ax.legend(fontsize=8.6, **legend_kw)
    for line in leg.get_lines():
        line.set_linewidth(1.0)


fig = plt.figure(figsize=(W / 100, H / 100), dpi=100)

tl_red = [[(1, s), tl_red_end] for s in tl_red_start]
tr_red = [[(1, s), tr_red_end] for s in tr_red_start]
bl_red = [[(bl_red_t[0], s), (bl_red_t[1], e)] for s, e in bl_red_pairs] + bl_red_extra
br_red = [[(br_red_t[0], s), (br_red_t[1], e)] for s, e in br_red_pairs]

ax = px_axes(fig, 53, 24, 609, 204)
draw_panel(ax, tl_green, tl_blue, tl_red,
           'NLL: fixed data & random initial condition (50 runs)',
           (0.77, 75), (1500, 7000), dict(loc='upper right'))

ax = px_axes(fig, 670, 17, 1244, 204)
draw_panel(ax, tr_green, tr_blue, tr_red,
           'relative absolute error: fixed data & random initial condition (50 runs)',
           (1, 50), (0.144, 250), dict(loc='upper left', ncol=3))

ax = px_axes(fig, 53, 271, 609, 451)
draw_panel(ax, bl_green, bl_blue, bl_red,
           'NLL: random data & random initial condition (50 runs)',
           (0.77, 75), (1500, 7000), dict(loc='upper center'))

ax = px_axes(fig, 669, 267, 1232, 450)
draw_panel(ax, br_green, br_blue, br_red,
           'relative absolute error: random data & random initial condition (50 runs)',
           (1, 50), (0.156, 250), dict(loc='upper left', ncol=3))

fig.savefig('out.png', dpi=100)
